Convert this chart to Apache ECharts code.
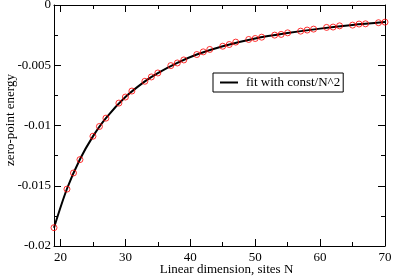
<!DOCTYPE html>
<html><head><meta charset="utf-8">
<script src="https://cdn.jsdelivr.net/npm/echarts@6/dist/echarts.min.js"></script>
<style>html,body{margin:0;padding:0;background:#fff}#c{width:394px;height:276px}</style>
</head><body><div id="c"></div>
<script>
var pointsN = [19,21,22,23,25,26,27,29,30,31,33,34,35,37,38,39,41,42,43,45,46,47,49,50,51,53,54,55,57,58,59,61,62,63,65,66,67,69,70];
var pointsE = [-0.01848,-0.01528,-0.01394,-0.01283,-0.01089,-0.01008,-0.00939,-0.00814,-0.00764,-0.00714,-0.00633,-0.00597,-0.00564,-0.00503,-0.00481,-0.00456,-0.00411,-0.00389,-0.00369,-0.00342,-0.00328,-0.00308,-0.00286,-0.00278,-0.00267,-0.0025,-0.00244,-0.00231,-0.00217,-0.00208,-0.002,-0.00186,-0.00183,-0.00173,-0.00167,-0.00158,-0.00156,-0.00147,-0.00142];
var fitN = [19,21,23,25,27,30,33,35,38,41,45,50,55,60,65,70];
var fitE = [-0.01848,-0.01525,-0.0128,-0.0109,-0.00938,-0.00764,-0.00634,-0.00565,-0.0048,-0.00411,-0.00342,-0.00278,-0.00233,-0.00196,-0.00166,-0.00142];
var xMajorTicks = [20,30,40,50,60,70];
var xMinorTicks = [25,35,45,55,65];
var yTickLabels = {'0':'0','-0.005':'-0.005','-0.01':'-0.01','-0.015':'-0.015','-0.02':'-0.02'};
var fitName = 'fit with const/N^2';
var xTitle = 'Linear dimension, sites N';
var yTitle = 'zero-point energy';

var FONT = 'Liberation Serif';
var chart = echarts.init(document.getElementById('c'), null, {renderer:'canvas'});
function xAx(pos, ticks, len, labels, line){
  return {
    type:'value', position:pos, min:19, max:70,
    axisLine:{show:line, onZero:false, lineStyle:{color:'#000', width:1}},
    axisTick:{show:true, inside:true, length:len, customValues:ticks, lineStyle:{color:'#000', width:1}},
    axisLabel:{show:labels, customValues:ticks, margin:5, color:'#000', fontFamily:FONT, fontSize:13},
    splitLine:{show:false}
  };
}
var xa0 = xAx('bottom', xMajorTicks, 7, true, true);
xa0.name = xTitle; xa0.nameLocation = 'middle'; xa0.nameGap = 17; xa0.nameMoveOverlap = false;
xa0.nameTextStyle = {color:'#000', fontFamily:FONT, fontSize:13, padding:[0,0,0,14]};
function yAx(pos, labels){
  return {
    type:'value', position:pos, min:-0.02, max:0, interval:0.005,
    axisLine:{show:true, onZero:false, lineStyle:{color:'#000', width:1}},
    axisTick:{show:true, inside:true, length:7, lineStyle:{color:'#000', width:1}},
    minorTick:{show:true, splitNumber:2, length:4, lineStyle:{color:'#000', width:1}},
    axisLabel:{show:labels, margin:3, color:'#000', fontFamily:FONT, fontSize:13,
      formatter:function(v){ var k=String(+v.toFixed(4)); return yTickLabels[k]!==undefined?yTickLabels[k]:k; }},
    splitLine:{show:false}, minorSplitLine:{show:false}
  };
}
var ya0 = yAx('left', true);
ya0.name = yTitle; ya0.nameLocation='middle'; ya0.nameGap = 37; ya0.nameRotate = 90; ya0.nameMoveOverlap = false;
ya0.nameTextStyle = {color:'#000', fontFamily:FONT, fontSize:13, padding:[0,0,0,11]};
var fitData = fitN.map(function(n,i){return [n, fitE[i]];});
var ptData = pointsN.map(function(n,i){return [n, pointsE[i]];});
chart.setOption({
  animation:false,
  backgroundColor:'#fff',
  grid:{left:54, top:5, width:331, height:241, containLabel:false, outerBoundsMode:'none'},
  xAxis:[xa0, xAx('bottom', xMinorTicks, 4, false, false), xAx('top', xMajorTicks, 7, false, true), xAx('top', xMinorTicks, 4, false, false)],
  yAxis:[ya0, yAx('right', false)],
  legend:{
    data:[fitName], left:213, top:73, orient:'vertical',
    padding:[3,3,3,7], borderColor:'#000', borderWidth:1, borderRadius:0,
    icon:'rect', itemWidth:18, itemHeight:2,
    textStyle:{color:'#000', fontFamily:FONT, fontSize:13, padding:[0,0,0,3]}
  },
  series:[
    {type:'line', name:fitName, data:fitData, xAxisIndex:0, yAxisIndex:0, showSymbol:false, symbol:'none',
      smooth:0.3, lineStyle:{color:'#000', width:2}, itemStyle:{color:'#000'}, z:2},
    {type:'scatter', name:'data', data:ptData, xAxisIndex:0, yAxisIndex:0, symbol:'circle', symbolSize:6,
      itemStyle:{color:'rgba(0,0,0,0)', borderColor:'#ff0000', borderWidth:1}, z:3}
  ]
});
</script></body></html>
